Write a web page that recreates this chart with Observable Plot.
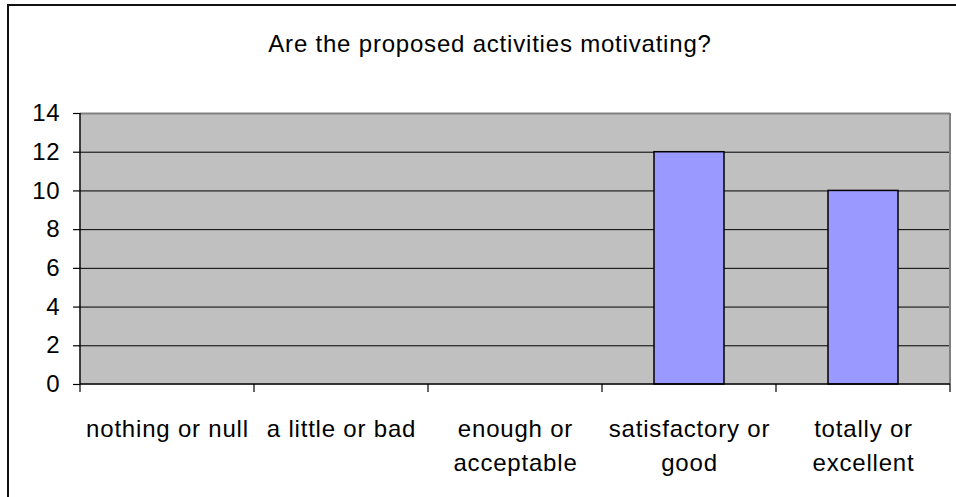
<!DOCTYPE html>
<html>
<head>
<meta charset="utf-8">
<script src="https://cdn.jsdelivr.net/npm/d3@7"></script>
<script src="https://cdn.jsdelivr.net/npm/@observablehq/plot@0.6"></script>
<style>
  html, body { margin: 0; padding: 0; background: #fff; width: 956px; height: 497px; overflow: hidden; position: relative; }
  #frame { position: absolute; left: 7px; top: 4px; width: 1200px; height: 800px; border-left: 2px solid #111; border-top: 2px solid #111; }
  #title { position: absolute; left: 0; top: 30px; width: 980px; text-align: center; font: 24px "Liberation Sans", Arial, sans-serif; line-height: 28px; letter-spacing: 0.8px; color: #000; }
  #chart { position: absolute; left: 0; top: 0; }
</style>
</head>
<body>
<div id="frame"></div>
<div id="title">Are the proposed activities motivating?</div>
<div id="chart"></div>
<script>
const categories = ["nothing or null", "a little or bad", "enough or\nacceptable", "satisfactory or\ngood", "totally or\nexcellent"];
const values = [0, 0, 0, 12, 10];
const yTicks = [0, 2, 4, 6, 8, 10, 12, 14];

const data = categories.map((c, i) => ({category: c, value: values[i]}));

const boundaries = (index, scales, channels, dims) => {
  const x = scales.x, y = scales.y;
  const y0 = y(0), yTop = y(yTicks[yTicks.length - 1]);
  const left = dims.marginLeft, right = dims.width - dims.marginRight;
  const g = d3.create("svg:g");
  const bounds = categories.map(c => x(c)).concat([x(categories[categories.length - 1]) + x.bandwidth()]);
  g.append("line").attr("x1", right).attr("x2", right).attr("y1", yTop).attr("y2", y0)
    .attr("stroke", "#808080").attr("stroke-width", 2);
  g.append("line").attr("x1", left).attr("x2", left).attr("y1", yTop).attr("y2", y0)
    .attr("stroke", "black").attr("stroke-width", 1.5);
  g.append("line").attr("x1", left).attr("x2", right).attr("y1", y0).attr("y2", y0)
    .attr("stroke", "black").attr("stroke-width", 1.5);
  g.selectAll("line.b").data(bounds).join("line").attr("class", "b")
    .attr("x1", d => d).attr("x2", d => d).attr("y1", y0).attr("y2", y0 + 8)
    .attr("stroke", "black").attr("stroke-width", 1.2);
  return g.node();
};

const chart = Plot.plot({
  width: 956,
  height: 497,
  marginLeft: 80,
  marginRight: 6,
  marginTop: 113,
  marginBottom: 113,
  style: {fontFamily: "'Liberation Sans', Arial, sans-serif", fontSize: "24px", background: "transparent", overflow: "visible", letterSpacing: "0.8px", color: "#000"},
  x: {domain: categories, padding: 0},
  y: {domain: [0, 14]},
  marks: [
    Plot.frame({fill: "#C0C0C0", stroke: null}),
    Plot.ruleY(yTicks.filter(d => d > 0 && d < 14), {stroke: "black", strokeWidth: 1}),
    Plot.ruleY([14], {stroke: "#808080", strokeWidth: 2}),
    Plot.barY(data.filter(d => d.value > 0), {x: "category", y: "value", fill: "#9999FF", stroke: "black", strokeWidth: 1.5, insetLeft: 52, insetRight: 52}),
    Plot.axisY({ticks: yTicks, tickSize: 7, tickPadding: 13, stroke: "black", strokeWidth: 1.2, fill: "black", label: null}),
    Plot.axisX({tickSize: 0, tickPadding: 29, lineHeight: 1.4, fill: "black", label: null}),
    boundaries
  ]
});
document.getElementById("chart").appendChild(chart);
</script>
</body>
</html>
